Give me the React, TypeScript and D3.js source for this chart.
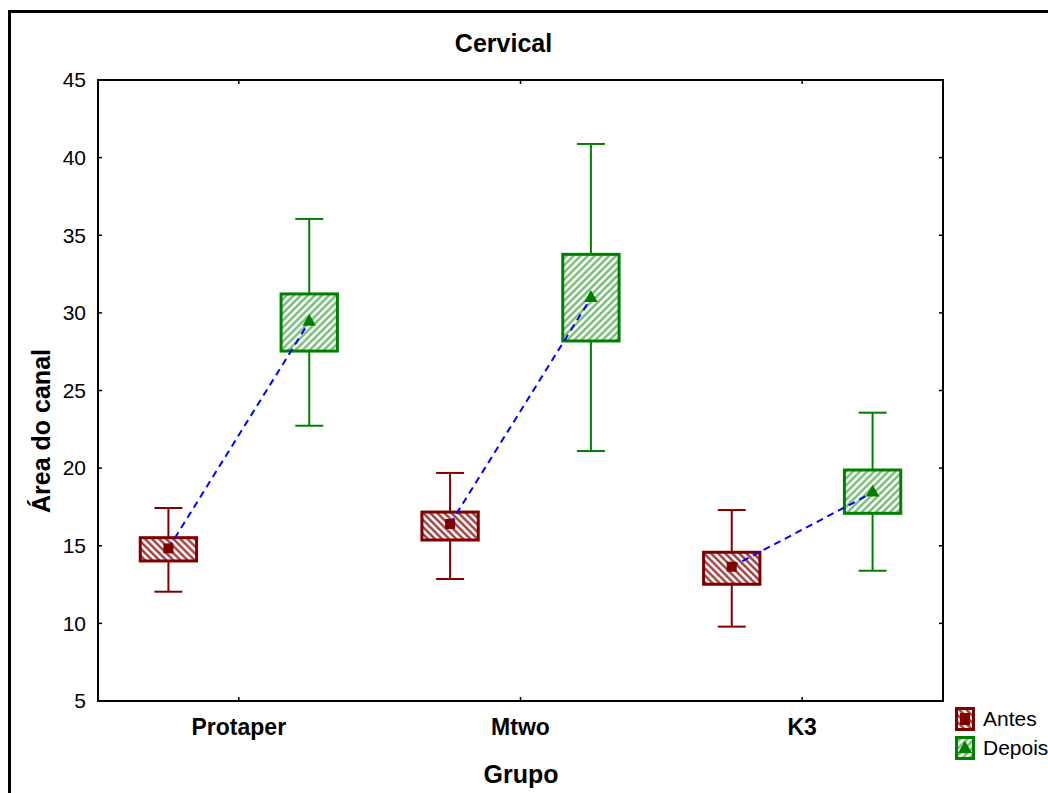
import * as d3 from "d3";

const categories = ["Protaper", "Mtwo", "K3"];
const series = ["Antes", "Depois"];

// mean, box (low/high), whiskers (low/high)
const antesMean = [14.83, 16.4, 13.65];
const antesBoxLow = [14.02, 15.37, 12.52];
const antesBoxHigh = [15.52, 17.17, 14.58];
const antesWhiskLow = [12.04, 12.86, 9.79];
const antesWhiskHigh = [17.43, 19.69, 17.3];

const depoisMean = [29.43, 30.96, 18.42];
const depoisBoxLow = [27.54, 28.19, 17.09];
const depoisBoxHigh = [31.22, 33.77, 19.88];
const depoisWhiskLow = [22.73, 21.1, 13.39];
const depoisWhiskHigh = [36.05, 40.88, 23.57];

const yTicks = [5, 10, 15, 20, 25, 30, 35, 40, 45];

const RED = "#800000";
const GREEN = "#008000";
const FONT = "'Liberation Sans', Arial, sans-serif";

const W = 1048;
const H = 793;
const plot = { left: 98, top: 80, right: 943, bottom: 701 };

export default function App() {
  const x = d3.scaleBand<string>().domain(categories).range([plot.left, plot.right]);
  const y = d3.scaleLinear().domain([5, 45]).range([plot.bottom, plot.top]);
  const bw = x.bandwidth();
  const boxW = bw * 0.2;
  const capW = 28;

  const groups = [
    {
      name: series[0], color: RED, pattern: "url(#hatchRed)", offset: -bw / 4,
      mean: antesMean, lo: antesBoxLow, hi: antesBoxHigh, wlo: antesWhiskLow, whi: antesWhiskHigh,
    },
    {
      name: series[1], color: GREEN, pattern: "url(#hatchGreen)", offset: bw / 4,
      mean: depoisMean, lo: depoisBoxLow, hi: depoisBoxHigh, wlo: depoisWhiskLow, whi: depoisWhiskHigh,
    },
  ];

  const cx = (cat: string, off: number) => (x(cat) ?? 0) + bw / 2 + off;

  const tri = d3.symbol().type(d3.symbolTriangle).size(80);
  const meanLine = d3.line<[number, number]>();

  return (
    <div style={{ position: "absolute", left: 0, top: 0 }}>
      <svg width={W} height={H} style={{ display: "block", background: "#fff" }} fontFamily={FONT}>
        <defs>
          <pattern id="hatchRed" width={5} height={5} patternUnits="userSpaceOnUse" patternTransform="rotate(-45)">
            <rect width={5} height={5} fill="#fff" />
            <line x1={1.5} y1={0} x2={1.5} y2={5} stroke={RED} strokeWidth={2.2} strokeOpacity={0.85} />
          </pattern>
          <pattern id="hatchGreen" width={5} height={5} patternUnits="userSpaceOnUse" patternTransform="rotate(45)">
            <rect width={5} height={5} fill="#fff" />
            <line x1={1.5} y1={0} x2={1.5} y2={5} stroke={GREEN} strokeWidth={2.2} strokeOpacity={0.6} />
          </pattern>
        </defs>

        {/* outer frame, runs off the right and bottom edges */}
        <rect x={9.5} y={11.5} width={1200} height={1000} fill="none" stroke="#000" strokeWidth={3} />

        {/* plot frame */}
        <rect x={plot.left} y={plot.top} width={plot.right - plot.left} height={plot.bottom - plot.top}
          fill="none" stroke="#000" strokeWidth={2} />

        {yTicks.map(t => (
          <g key={t}>
            <line x1={plot.left} x2={plot.left + 4} y1={y(t)} y2={y(t)} stroke="#000" strokeWidth={1.5} />
            <line x1={plot.right - 4} x2={plot.right} y1={y(t)} y2={y(t)} stroke="#000" strokeWidth={1.5} />
            <text x={86} y={y(t)} dy="0.35em" textAnchor="end" fontSize={21}>{t}</text>
          </g>
        ))}

        {categories.map(c => {
          const px = cx(c, 0);
          return (
            <g key={c}>
              <line x1={px} x2={px} y1={plot.bottom} y2={plot.bottom - 4} stroke="#000" strokeWidth={1.5} />
              <line x1={px} x2={px} y1={plot.top} y2={plot.top + 4} stroke="#000" strokeWidth={1.5} />
              <text x={px} y={735} textAnchor="middle" fontSize={23} fontWeight="bold">{c}</text>
            </g>
          );
        })}

        {/* whiskers and boxes */}
        {groups.map(g => categories.map((c, i) => {
          const px = cx(c, g.offset);
          return (
            <g key={g.name + c}>
              <line x1={px} x2={px} y1={y(g.whi[i])} y2={y(g.hi[i])} stroke={g.color} strokeWidth={2} />
              <line x1={px} x2={px} y1={y(g.lo[i])} y2={y(g.wlo[i])} stroke={g.color} strokeWidth={2} />
              <line x1={px - capW / 2} x2={px + capW / 2} y1={y(g.whi[i])} y2={y(g.whi[i])} stroke={g.color} strokeWidth={2} />
              <line x1={px - capW / 2} x2={px + capW / 2} y1={y(g.wlo[i])} y2={y(g.wlo[i])} stroke={g.color} strokeWidth={2} />
              <rect x={px - boxW / 2} y={y(g.hi[i])} width={boxW} height={y(g.lo[i]) - y(g.hi[i])}
                fill={g.pattern} stroke={g.color} strokeWidth={3} />
            </g>
          );
        }))}

        {/* dashed line linking the means */}
        {categories.map((c, i) => (
          <path key={"m" + c}
            d={meanLine([[cx(c, -bw / 4), y(antesMean[i])], [cx(c, bw / 4), y(depoisMean[i])]]) ?? ""}
            fill="none" stroke="#0000ff" strokeWidth={2} strokeDasharray="7,5" />
        ))}

        {/* mean markers */}
        {categories.map((c, i) => (
          <g key={"mk" + c}>
            <rect x={cx(c, -bw / 4) - 5} y={y(antesMean[i]) - 5} width={10} height={10} fill={RED} />
            <path d={tri() ?? ""} transform={`translate(${cx(c, bw / 4)},${y(depoisMean[i])})`} fill={GREEN} />
          </g>
        ))}

        <text x={503.5} y={52} textAnchor="middle" fontSize={25} fontWeight="bold">Cervical</text>
        <text x={521} y={783} textAnchor="middle" fontSize={25} fontWeight="bold">Grupo</text>
        <text transform="translate(50,431) rotate(-90)" textAnchor="middle" fontSize={25} fontWeight="bold">Área do canal</text>

        {/* legend */}
        {groups.map((g, k) => {
          const ly = 708 + k * 29;
          return (
            <g key={"lg" + g.name}>
              <rect x={956.5} y={ly + 0.5} width={17} height={21} fill={g.pattern} stroke={g.color} strokeWidth={3} />
              {k === 0
                ? <rect x={960} y={ly + 5} width={10} height={12} fill={g.color} />
                : <path d={d3.symbol().type(d3.symbolTriangle).size(90)() ?? ""} transform={`translate(965,${ly + 12})`} fill={g.color} />}
              <text x={983} y={ly + 18} fontSize={21}>{g.name}</text>
            </g>
          );
        })}
      </svg>
    </div>
  );
}
